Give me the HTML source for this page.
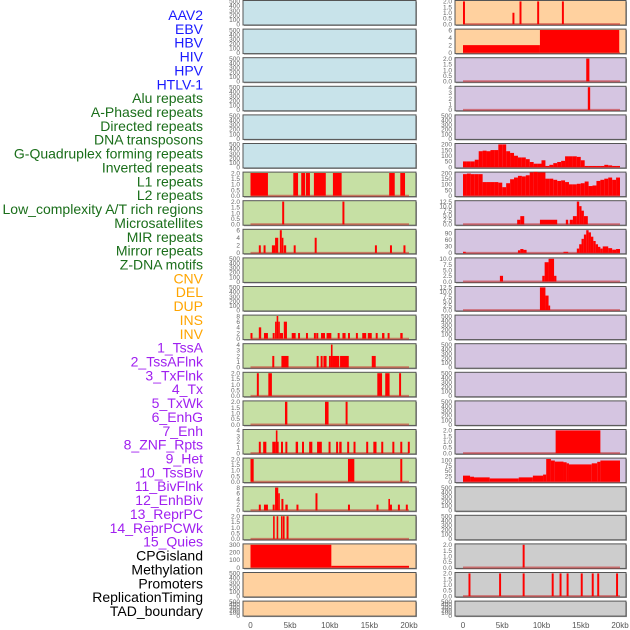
<!DOCTYPE html>
<html><head><meta charset="utf-8">
<style>
body{margin:0;background:#fff;}
svg{display:block;font-family:"Liberation Sans",sans-serif;}
</style></head>
<body>
<svg id="chart" width="630" height="630" xmlns="http://www.w3.org/2000/svg"></svg>
<script>
// ---- labels ----
const labelNames = ["AAV2","EBV","HBV","HIV","HPV","HTLV-1","Alu repeats","A-Phased repeats","Directed repeats","DNA transposons","G-Quadruplex forming repeats","Inverted repeats","L1 repeats","L2 repeats","Low_complexity A/T rich regions","Microsatellites","MIR repeats","Mirror repeats","Z-DNA motifs","CNV","DEL","DUP","INS","INV","1_TssA","2_TssAFlnk","3_TxFlnk","4_Tx","5_TxWk","6_EnhG","7_Enh","8_ZNF_Rpts","9_Het","10_TssBiv","11_BivFlnk","12_EnhBiv","13_ReprPC","14_ReprPCWk","15_Quies","CPGisland","Methylation","Promoters","ReplicationTiming","TAD_boundary"];
const labelGroups = [6,13,5,15,5];
const groupColors = ["#1a1aff","#1a6e1a","#ffa500","#a020f0","#000000"];
const xTicks = [0,5,10,15,20];
const xTickLabels = ["0","5kb","10kb","15kb","20kb"];

// ---- left column series: [startKb, endKb, value] ----
const L7 = [[0,2.2,2],[5.4,6.0,2],[6.4,6.9,2],[7.0,7.5,2],[8.0,9.5,2],[10.4,11.5,2],[17.5,18.2,2],[18.9,19.5,2]];
const L8 = [[4.0,4.25,2],[11.6,11.85,2]];
const L9 = [[1.05,1.3,2],[1.65,1.9,2],[2.7,3.1,2],[3.1,3.5,4],[3.7,3.95,6],[3.95,4.15,4],[4.2,4.5,2],[5.45,5.7,2],[8.1,8.35,4],[15.7,15.95,2],[17.6,17.85,2],[19.3,19.55,2]];
const L12 = [[0,0.25,2],[1.05,1.35,4],[1.7,2.2,2],[2.8,3.05,2],[3.1,3.3,6],[3.3,3.5,8],[3.5,3.65,6],[3.7,4.1,2],[4.2,4.6,6],[5.2,5.7,2],[6.0,6.25,2],[7.0,7.25,2],[8.0,8.25,2],[8.3,8.55,2],[8.9,9.4,2],[9.6,10.2,2],[11.0,11.25,2],[11.6,12.0,2],[12.3,12.55,2],[13.3,13.55,2],[14.1,14.6,2],[14.8,15.3,2],[15.8,16.05,2],[16.6,16.9,2],[17.3,17.55,2],[18.9,19.2,2]];
const L13 = [[2.75,3.0,2],[3.9,4.8,2],[8.35,8.6,2],[8.85,9.1,2],[9.2,9.6,2],[9.9,10.15,2],[10.15,10.35,4],[10.35,11.2,2],[11.3,12.4,2],[15.3,15.8,2]];
const L14 = [[0.8,1.05,2],[2.25,2.7,2],[16.0,16.6,2],[17.0,17.55,2],[18.75,19.0,2]];
const L15 = [[4.35,4.65,2],[9.4,9.85,2],[12.0,12.25,2]];
const L16 = [[1.05,1.3,2],[1.6,2.0,2],[2.75,3.2,2],[3.2,3.35,4],[3.35,3.5,2],[3.85,4.1,2],[4.4,4.65,2],[5.7,6.0,2],[6.5,6.75,2],[7.4,7.8,2],[8.4,9.0,2],[9.85,10.1,2],[10.8,11.05,2],[11.2,11.5,2],[12.2,12.45,2],[13.0,13.25,2],[14.6,14.85,2],[15.5,15.9,2],[16.5,16.75,2],[17.9,18.15,2],[18.9,19.15,2],[19.85,20.1,2]];
const L17 = [[0,0.4,2],[12.3,13.1,2],[18.9,19.15,2]];
const L18 = [[1.05,1.3,2],[1.7,2.2,2],[2.8,3.05,2],[3.1,3.5,8],[3.5,3.7,6],[3.9,4.15,4],[4.4,4.7,2],[5.8,6.05,2],[8.2,8.45,6],[12.3,12.55,2],[15.9,16.15,2],[17.4,17.6,4],[17.6,17.85,2],[18.6,18.85,2],[19.6,19.85,2]];
const L19 = [[2.85,3.05,2],[3.3,3.5,2],[3.85,4.05,2],[4.1,4.3,2],[4.55,4.8,2]];
const L20 = [[0,10.2,300],[10.2,20,22]];

// ---- right column series ----
const R1 = [[0,0.25,2],[6.3,6.55,1],[7.2,7.45,2],[9.45,9.7,2],[12.6,12.85,2]];
const R2 = [[0,9.8,2],[9.8,19.9,6]];
const R3 = [[15.7,16.1,2]];
const R4 = [[15.9,16.2,4]];
const R6vals = [50,50,50,65,140,145,140,150,150,200,200,140,125,100,85,85,70,45,30,30,60,10,20,35,45,55,95,95,95,90,60,10,10,10,10,10,20,15,10,10];
const R7vals = [190,195,190,190,190,120,120,120,120,115,75,110,145,160,175,170,180,205,210,205,205,150,150,140,130,135,120,100,100,105,110,125,85,90,130,140,150,160,140,160];
const R8 = [[6.9,7.3,2.5],[7.3,7.8,4.5],[9.8,12.0,2.5],[13.1,13.4,2.5],[13.6,14.0,2.5],[14.0,14.5,4.5],[14.5,14.8,12.5],[14.8,15.1,10],[15.1,15.4,7.5],[15.4,15.9,4.5]];
const R9 = [[0,0.35,5],[7.0,7.3,12],[7.3,7.7,18],[7.7,8.1,14],[12.8,13.4,5],[14.5,14.8,20],[14.8,15.1,40],[15.1,15.4,65],[15.4,15.7,85],[15.7,16.0,105],[16.0,16.3,95],[16.3,16.6,75],[16.6,16.9,55],[16.9,17.2,40],[17.2,17.5,28],[17.5,17.8,20],[17.8,18.5,30],[18.5,19.0,22],[19.0,19.5,15],[19.5,20,18]];
const R10 = [[4.7,5.1,2.5],[10.1,10.4,2.5],[10.4,10.9,8.5],[10.9,11.6,10],[11.6,11.9,2.5]];
const R11 = [[9.8,10.5,12.5],[10.5,10.9,8],[10.9,11.1,2.5]];
const R16 = [[11.8,17.5,2]];
const R17 = [[0,0.9,28],[0.9,1.4,23],[1.4,3.4,20],[3.4,7.1,15],[7.1,8.9,20],[8.9,10.2,28],[10.2,10.6,33],[10.6,11.2,105],[11.2,11.7,98],[11.7,12.8,93],[12.8,13.2,90],[13.2,13.5,85],[13.5,16.4,80],[16.4,17.1,85],[17.1,17.5,92],[17.5,20,98]];
const R20 = [[7.6,7.85,2]];
const R21 = [[0.7,0.95,2],[4.6,4.85,2],[7.6,7.85,2],[11.3,11.55,2],[12.3,12.55,2],[13.2,13.45,2],[15.0,15.25,2],[16.4,16.65,2],[17.1,17.35,2],[19.5,19.75,2]];

const T500 = [0,100,200,300,400,500];
const T2 = [0,0.5,1,1.5,2];
const BLUE="#c8e3ea", GREEN="#c6e0a4", ORANGE="#ffd19f", PURPLE="#d5c5e1", GRAY="#cdcdcd";

function prof(vals){ return vals.map((v,i)=>[i*0.5,(i+1)*0.5,v]); }

const leftPanels = [
 [BLUE,null,500,T500],[BLUE,null,500,T500],[BLUE,null,500,T500],[BLUE,null,500,T500],[BLUE,null,500,T500],[BLUE,null,500,T500],
 [GREEN,L7,2,T2],[GREEN,L8,2,T2],[GREEN,L9,6,[0,2,4,6]],[GREEN,null,500,T500],[GREEN,null,500,T500],
 [GREEN,L12,8,[0,2,4,6,8]],[GREEN,L13,4,[0,1,2,3,4]],[GREEN,L14,2,T2],[GREEN,L15,2,T2],[GREEN,L16,4,[0,1,2,3,4]],
 [GREEN,L17,2,T2],[GREEN,L18,8,[0,2,4,6,8]],[GREEN,L19,2,T2],
 [ORANGE,L20,300,[0,100,200,300]],[ORANGE,null,500,T500],[ORANGE,null,500,T500]
];
const rightPanels = [
 [ORANGE,R1,2,T2],[ORANGE,R2,6,[0,2,4,6]],[PURPLE,R3,2,T2],[PURPLE,R4,4,[0,1,2,3,4]],[PURPLE,null,500,T500],
 [PURPLE,prof(R6vals),200,[0,50,100,150,200]],[PURPLE,prof(R7vals),200,[0,50,100,150,200]],
 [PURPLE,R8,12.5,[0,2.5,5,7.5,10,12.5]],[PURPLE,R9,105,[0,30,60,90]],[PURPLE,R10,10,[0,2.5,5,7.5,10]],
 [PURPLE,R11,12.5,[0,2.5,5,7.5,10,12.5]],[PURPLE,null,500,T500],[PURPLE,null,500,T500],[PURPLE,null,500,T500],[PURPLE,null,500,T500],
 [PURPLE,R16,2,T2],[PURPLE,R17,105,[0,25,50,75,100]],
 [GRAY,null,500,T500],[GRAY,null,500,T500],[GRAY,R20,2,T2],[GRAY,R21,2,T2],[GRAY,null,500,T500]
];

const NS="http://www.w3.org/2000/svg";
const svg=document.getElementById('chart');
function mk(tag,attrs,parent){const e=document.createElementNS(NS,tag);for(const k in attrs)e.setAttribute(k,attrs[k]);(parent||svg).appendChild(e);return e;}

// labels
let li=0;
labelGroups.forEach((n,g)=>{
  for(let k=0;k<n;k++){
    const t=mk('text',{x:203,y:15+li*13.86+5,'text-anchor':'end','font-size':'14',fill:groupColors[g]});
    t.textContent=labelNames[li];
    
    
    li++;
  }
});

function drawPanel(cfg,col,row){
  const [bg,data,ymax,ticks]=cfg;
  const dec = ticks.some(t=>!Number.isInteger(t));
  const px = col===0?243:455, pw = col===0?173:171;
  const x0 = col===0?250.5:463, x1 = col===0?409:620;
  const top = 0.5+row*28.6;
  const h = row===21?15:24.5;
  const g=mk('g',{});
  
  
  const xs=kb=>x0+(x1-x0)*kb/20;
  const ymin=-0.04*ymax, ytop=1.04*ymax;
  const ys=v=>top+h-(v-ymin)/(ytop-ymin)*h;
  mk('rect',{x:px+1,y:top+1,width:pw,height:h,fill:'#999'},g);
  mk('rect',{x:px,y:top,width:pw,height:h,fill:bg,stroke:'#555','stroke-width':1},g);
  if(data){
    mk('line',{x1:xs(0),x2:xs(20),y1:ys(0),y2:ys(0),stroke:'rgba(200,40,40,0.55)','stroke-width':2},g);
    data.forEach(d=>{
      const xa=xs(d[0]), xb=xs(d[1]);
      const r=mk('rect',{x:xa,y:ys(d[2]),width:Math.max(xb-xa,1.6),height:ys(0)-ys(d[2]),fill:'#ff0000'},g);
      
      
    });
  }
  ticks.forEach(t=>{
    const tx=mk('text',{x:px-3,y:ys(t)+2.3,'text-anchor':'end','font-size':'6.5',fill:'#666'},g);
    tx.textContent=dec?t.toFixed(1):String(t);
  });
}
leftPanels.forEach((c,i)=>drawPanel(c,0,i));
rightPanels.forEach((c,i)=>drawPanel(c,1,i));

// x axes
[[250.5,409],[463,620]].forEach((r,ci)=>{
  xTicks.forEach((t,i)=>{
    const x=r[0]+(r[1]-r[0])*t/20;
    const tx=mk('text',{x:x,y:628,'text-anchor':'middle','font-size':'8',fill:'#555'});
    tx.textContent=xTickLabels[i];
    
    
  });
});
</script>
</body></html>
